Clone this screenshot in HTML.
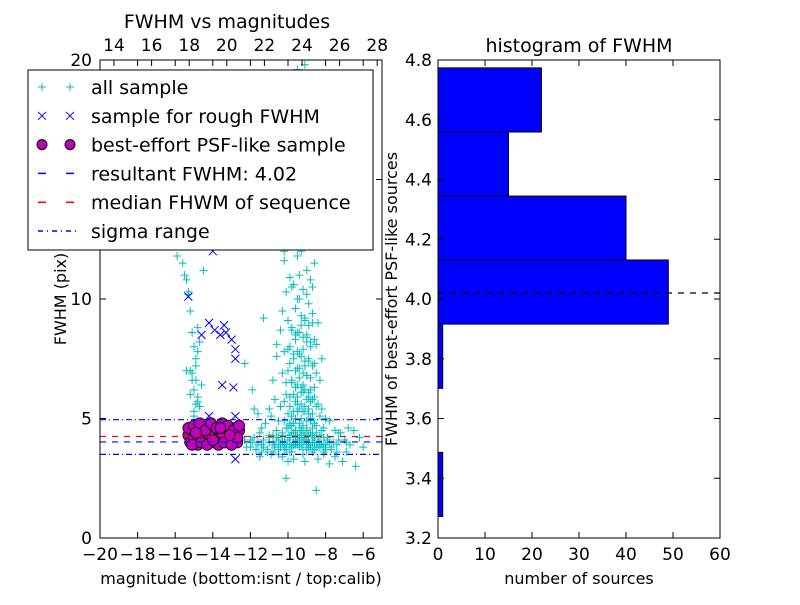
<!DOCTYPE html>
<html><head><meta charset="utf-8"><style>
body{margin:0;background:#fff}
svg{font-family:"DejaVu Sans","Liberation Sans",sans-serif}
</style></head><body>
<svg id="c" width="800" height="600" xmlns="http://www.w3.org/2000/svg"></svg>
<script>
const allMag=[-10.5,-10.2,-9.8,-9.5,-9.3,-9.0,-8.8,-8.6,-9.9,-10.1,-9.7,-9.4,-9.2,-8.9,-10.3,-9.6,-9.1,-8.7,-8.4,-10.0,-9.8,-9.5,-9.3,-9.0,-8.8,-10.4,-9.9,-9.6,-9.2,-8.5,-10.6,-10.2,-9.7,-9.4,-9.1,-8.9,-10.0,-9.5,-9.0,-8.6,-10.8,-10.3,-9.8,-9.4,-9.2,-8.8,-8.3,-10.1,-9.6,-9.3,-8.9,-10.7,-10.2,-9.9,-9.5,-9.1,-8.7,-11.0,-10.4,-9.7,-9.3,-8.9,-8.2,-10.9,-10.0,-9.6,-9.2,-8.8,-8.0,-11.2,-10.5,-9.8,-9.4,-9.0,-8.5,-7.8,-11.4,-10.6,-10.1,-9.7,-9.3,-8.7,-8.1,-11.5,-10.8,-10.3,-9.9,-9.5,-9.1,-8.4,-7.5,-11.8,-11.0,-10.5,-10.0,-9.6,-9.0,-8.6,-7.9,-7.2,-11.9,-11.3,-10.7,-10.2,-9.7,-9.2,-8.8,-8.2,-7.6,-6.8,-12.3,-11.6,-11.0,-10.4,-9.9,-9.4,-8.9,-8.3,-7.7,-7.0,-6.5,-12.5,-12.0,-11.4,-10.8,-10.2,-9.6,-9.0,-8.5,-8.0,-7.4,-6.9,-6.2,-12.2,-11.7,-11.1,-10.5,-9.8,-9.2,-8.7,-8.1,-7.5,-6.9,-6.0,-11.5,-10.9,-10.3,-9.7,-9.1,-8.4,-7.8,-7.1,-6.4,-10.0,-8.2,-7.3,-9.6,-10.4,-9.0,-11.0,-10.7,-9.4,-9.9,-8.6,-10.1,-9.3,-8.9,-9.8,-10.6,-9.5,-8.8,-9.7,-10.3,-9.1,-11.2,-8.5,-9.0,-10.2,-9.4,-15.6,-15.4,-15.3,-15.2,-15.1,-15.0,-14.9,-15.2,-15.1,-15.0,-14.8,-14.9,-15.0,-14.7,-14.8,-14.9,-15.1,-14.6,-14.8,-15.0,-14.7,-15.3,-15.9,-15.5,-15.2,-14.9,-14.7,-15.0,-14.8,-12.3,-11.8,-10.6,-9.2,-8.1,-9.8,-10.5,-9.0,-8.4,-9.5,-10.9,-10.0,-11.3,-8.7,-9.3,-10.2,-14.5,-15.4,-11.6,-11.9,
-9.9,-9.7,-9.5,-9.3,-9.1,-8.9,-8.7,-9.8,-9.6,-9.4,-9.2,-9.0,-8.8,-8.6,-10.0,-9.7,-9.5,-9.3,-9.1,-8.9,-8.7,-9.9,-9.6,-9.4,-9.2,-9.0,-8.8,-8.5,-10.1,-9.8,-9.5,-9.3,-9.1,-8.9,-8.6,-9.7,-9.5,-9.2,-9.0,-8.8,-8.6,-8.4,-9.9,-9.6,-9.4,-9.1,-8.9,-8.7,-8.5,-9.8,-9.5,-9.3,-9.0,-8.8,-8.6,-8.3,-10.2,-9.9,-9.7,-9.4,-9.2,-9.0,-8.7,-8.5,-8.2,-10.3,-10.0,-9.8,-9.5,-9.3,-9.1,-8.8,-8.6,-8.3,-10.5,-10.2,-9.9,-9.6,-9.4,-9.1,-8.9,-8.6,-8.4,-8.1,-10.6,-10.3,-10.0,-9.7,-9.5,-9.2,-8.9,-8.7,-8.4,-8.0,-11.0,-10.7,-10.4,-10.1,-9.8,-9.5,-9.2,-8.9,-8.6,-8.3,-7.9,-11.6,-11.3,-11.0,-10.7,-10.4,-10.1,-9.8,-9.5,-9.2,-8.9,-8.6,-8.3,-8.0,-7.7,-7.4,-12.0,-11.7,-11.4,-11.1,-10.8,-10.5,-10.2,-9.9,-9.6,-9.3,-9.0,-8.7,-8.4,-8.1,-7.8,-7.3,-6.7,-9.7,-9.4,-9.1,-9.6,-9.3,-9.0,-9.5,-9.2,-8.9,-9.8,-9.4,-9.0];
const allFwhm=[12.2,11.6,12.5,11.8,12.0,11.2,10.8,11.5,10.9,10.3,10.6,10.0,10.4,9.8,9.5,9.6,9.2,9.4,9.0,9.1,8.8,8.6,8.9,8.4,8.2,8.7,8.0,8.3,7.9,8.1,7.6,7.8,7.5,7.7,7.2,7.4,7.0,7.1,6.8,7.3,6.6,6.9,6.5,6.7,6.4,6.2,6.6,6.0,6.3,6.1,5.9,5.8,5.7,5.9,5.6,5.5,5.8,5.4,5.5,5.3,5.6,5.2,5.4,5.1,5.2,5.0,5.3,4.9,5.0,4.8,4.9,4.7,4.8,4.6,4.7,4.9,4.6,4.5,4.6,4.4,4.5,4.3,4.6,4.4,4.3,4.4,4.2,4.3,4.2,4.1,4.5,4.2,4.3,4.1,4.2,4.0,4.1,4.0,4.2,4.4,4.0,4.1,3.9,4.0,3.9,4.0,3.8,3.9,4.0,4.6,4.1,4.0,4.2,3.9,3.9,3.8,4.0,3.9,3.8,4.1,4.5,4.2,4.1,3.9,4.0,3.8,3.9,3.7,3.8,3.7,3.9,4.0,4.2,3.8,3.7,3.6,3.7,3.6,3.5,3.6,3.5,3.4,3.6,3.8,3.4,3.5,3.4,3.3,3.2,3.3,3.1,3.2,3.0,3.2,7.5,4.4,4.5,14.5,13.5,13.0,13.8,15.5,16.5,17.0,2.5,17.8,18.2,19.0,18.6,19.6,13.2,15.8,16.2,19.8,14.2,2.0,8.5,15.2,14.8,11.5,10.8,10.2,9.5,8.6,8.0,7.5,7.0,6.6,6.2,5.9,5.6,5.3,8.2,7.8,7.2,6.9,6.4,5.7,5.1,5.5,10.3,11.8,11.0,6.0,6.6,5.5,4.6,8.8,7.3,5.4,8.1,4.6,3.6,12.8,14.0,16.8,18.8,15.0,13.2,17.5,9.2,10.5,17.3,12.0,11.2,7.0,5.2,6.2,4.8,19.2,10.0,
9.3,9.1,8.9,9.0,8.7,8.5,8.6,8.4,8.2,8.0,8.3,7.9,7.7,7.8,7.6,7.4,7.5,7.2,7.3,7.0,7.1,6.9,6.8,6.7,6.9,6.5,6.6,6.4,6.3,6.2,6.1,6.3,6.0,5.9,6.1,5.8,5.7,5.9,5.6,5.5,5.7,5.4,5.3,5.4,5.2,5.5,5.1,5.3,5.0,4.9,5.0,4.8,5.1,4.9,4.7,4.8,4.6,4.7,4.5,4.6,4.4,4.5,4.3,4.6,4.4,4.3,4.5,4.2,4.4,4.1,4.3,4.2,4.0,4.3,4.2,4.1,4.3,4.0,4.2,4.1,3.9,4.2,4.0,4.1,3.9,4.0,4.1,3.9,4.0,3.8,3.9,4.0,3.8,3.9,3.7,3.8,4.0,4.1,3.9,4.0,3.8,4.1,3.9,3.8,4.0,3.9,3.8,3.9,3.8,3.9,3.7,3.8,3.7,3.9,3.8,3.7,3.6,3.8,3.7,3.6,3.7,3.6,3.5,3.7,3.6,4.1,4.2,4.0,4.3,4.1,4.2,4.0,4.1,3.9,4.0,4.2,4.1,4.0,3.9,3.8,4.0,4.4,4.3,10.5,11.0,10.2,11.5,10.8,10.0,12.5,13.0,12.2,13.5,14.0,13.8];
const roughMag=[-14.6,-14.2,-13.9,-13.6,-13.4,-13.3,-13.0,-12.8,-12.8,-13.5,-12.9,-15.3,-14.0,-14.2,-12.8,-12.8,-14.8,-13.2,-12.6];
const roughFwhm=[8.5,9.0,8.7,8.5,8.9,8.6,8.3,7.9,7.5,6.4,6.3,10.1,12.0,5.1,5.1,3.3,4.6,4.4,4.3];
const bestMag=[-15.3,-15.1,-14.9,-14.7,-14.5,-14.3,-14.1,-13.8,-13.6,-13.4,-13.2,-13.0,-12.8,-12.6,-15.2,-15.0,-14.8,-14.6,-14.4,-14.2,-13.9,-13.7,-13.5,-13.3,-13.1,-12.9,-12.7,-15.3,-15.0,-14.7,-14.4,-14.1,-13.8,-13.5,-13.2,-12.9,-12.6,-15.1,-14.6,-14.3,-13.7,-13.4,-13.0,-12.7,-14.9,-14.0,-13.6,-13.1];
const bestFwhm=[4.3,4.5,4.2,4.6,4.4,4.1,4.3,4.5,4.2,4.7,4.4,4.6,4.3,4.5,4.0,4.2,3.9,4.1,4.0,4.3,4.0,4.1,4.4,4.0,4.2,4.1,4.0,4.6,4.7,4.8,4.5,4.8,4.6,4.8,4.7,4.5,4.7,3.9,4.0,3.9,3.9,4.0,3.9,4.2,4.4,4.1,4.6,4.3];
const resultFwhm=4.02, medianFwhm=4.25, sigmaLo=3.5, sigmaHi=4.95;
const binLo=[3.272,3.487,3.701,3.916,4.130,4.345,4.559];
const binCounts=[1,0,1,49,40,15,22];
const binW=0.2146;
const xTicksB=[-20,-18,-16,-14,-12,-10,-8,-6];
const xTicksT=[14,16,18,20,22,24,26,28];
const yTicksL=[0,5,10,20];
const yTicksR=[3.2,3.4,3.6,3.8,4.0,4.2,4.4,4.6,4.8];
const xTicksR=[0,10,20,30,40,50,60];

const S=document.getElementById('c'),NS='http://www.w3.org/2000/svg';
function mk(t,a,p){const e=document.createElementNS(NS,t);for(const k in a)e.setAttribute(k,a[k]);(p||S).appendChild(e);return e;}
const L={x0:100,x1:382,y0:60,y1:538};
const lx=v=>L.x0+(v+20)/15*(L.x1-L.x0);
const ltx=v=>114+(v-14)*18.8;
const ly=v=>L.y1-v/20*(L.y1-L.y0);
const R={x0:438,x1:720,y0:60,y1:538};
const rx=v=>R.x0+v/60*(R.x1-R.x0);
const ry=v=>R.y1-(v-3.2)/1.6*(R.y1-R.y0);
const gL=mk('g',{'clip-path':'url(#cl)'});


const cp=mk('clipPath',{id:'cl'});mk('rect',{x:L.x0,y:L.y0,width:L.x1-L.x0,height:L.y1-L.y0},cp);
for(let i=0;i<allMag.length;i++){const x=lx(allMag[i]),y=ly(allFwhm[i]);
 const p=mk('path',{d:`M${x-4},${y}h8M${x},${y-4}v8`,stroke:'#00bfbf','stroke-width':1},gL);
 
 }
for(let i=0;i<roughMag.length;i++){const x=lx(roughMag[i]),y=ly(roughFwhm[i]);
 const p=mk('path',{d:`M${x-4},${y-4}l8,8M${x-4},${y+4}l8,-8`,stroke:'#0000ff','stroke-width':1},gL);
 
 }
for(let i=0;i<bestMag.length;i++){
 const c=mk('circle',{cx:lx(bestMag[i]),cy:ly(bestFwhm[i]),r:5.5,fill:'#bf00bf',stroke:'#000','stroke-width':0.8},gL);
 
 }
function hl(v,col,dash,n){const l=mk('line',{x1:L.x0,x2:L.x1,y1:ly(v),y2:ly(v),stroke:col,'stroke-width':1.2,'stroke-dasharray':dash},gL);
 }
hl(resultFwhm,'#0000ff','6,6','resultant-fwhm-line');
hl(medianFwhm,'#ff0000','6,6','median-fwhm-line');
hl(sigmaLo,'#0000ff','6,3,1,3','sigma-low-line');
hl(sigmaHi,'#0000ff','6,3,1,3','sigma-high-line');
const lf=mk('rect',{x:L.x0,y:L.y0,width:L.x1-L.x0,height:L.y1-L.y0,fill:'none',stroke:'#000'});

function txt(x,y,s,a,n,extra){const t=mk('text',Object.assign({x:x,y:y,'font-size':17,'text-anchor':a||'middle'},extra||{}));t.textContent=s;
 return t;}
xTicksB.forEach(v=>{const x=lx(v);mk('path',{d:`M${x},${L.y1}v-6M${x},${L.y0}v6`,stroke:'#000'});
 txt(x,L.y1+22,(v<0?'\u2212':'')+Math.abs(v),'middle','x-tick-label-bottom');});
xTicksT.forEach(v=>{const x=ltx(v);mk('path',{d:`M${x},${L.y0}v6`,stroke:'#000'});
 txt(x,L.y0-9,String(v),'middle','x-tick-label-top');});
yTicksL.forEach(v=>{const y=ly(v);mk('path',{d:`M${L.x0},${y}h6M${L.x1},${y}h-6`,stroke:'#000'});
 txt(L.x0-8,y+6,String(v),'end','y-tick-label-left');});
mk('path',{d:`M${L.x0},${ly(15)}h6M${L.x1},${ly(15)}h-6`,stroke:'#000'});
txt(241,584,'magnitude (bottom:isnt / top:calib)','middle','x-axis-title-left',{'font-size':16});
txt(66,299,'FWHM (pix)','middle','y-axis-title-left',{'font-size':16,transform:'rotate(-90 66 299)'});
txt(227,28,'FWHM vs magnitudes','middle','left-chart-title',{'font-size':19});
const lg=mk('g',{});
mk('rect',{x:28,y:70,width:345,height:180,fill:'#fff',stroke:'#000'},lg);
const items=['all sample','sample for rough FWHM','best-effort PSF-like sample','resultant FWHM: 4.02','median FHWM of sequence','sigma range'];
items.forEach((s,i)=>{const y=87+i*28.8;
 const t=mk('text',{x:91,y:y+7,'font-size':19},lg);t.textContent=s;
 
 [42,70].forEach(x=>{
  if(i==0)mk('path',{d:`M${x-4},${y}h8M${x},${y-4}v8`,stroke:'#00bfbf'},lg);
  if(i==1)mk('path',{d:`M${x-4},${y-4}l8,8M${x-4},${y+4}l8,-8`,stroke:'#0000ff'},lg);
  if(i==2)mk('circle',{cx:x,cy:y,r:5,fill:'#bf00bf',stroke:'#000'},lg);});
 if(i==3)mk('line',{x1:38,x2:76,y1:y,y2:y,stroke:'#0000ff','stroke-width':1.5,'stroke-dasharray':'8,20'},lg);
 if(i==4)mk('line',{x1:38,x2:76,y1:y,y2:y,stroke:'#ff0000','stroke-width':1.5,'stroke-dasharray':'8,20'},lg);
 if(i==5)mk('line',{x1:38,x2:76,y1:y,y2:y,stroke:'#0000ff','stroke-width':1.5,'stroke-dasharray':'5,4,1,4'},lg);
});
binLo.forEach((lo,i)=>{if(!binCounts[i])return;const y0=ry(lo+binW),y1=ry(lo);
 const r=mk('rect',{x:rx(0),y:y0,width:rx(binCounts[i])-rx(0),height:y1-y0,fill:'#0000ff',stroke:'#000','stroke-width':1});
 });
const rl=mk('line',{x1:R.x0,x2:R.x1,y1:ry(resultFwhm),y2:ry(resultFwhm),stroke:'#000','stroke-width':1.2,'stroke-dasharray':'6,6'});

const rf=mk('rect',{x:R.x0,y:R.y0,width:R.x1-R.x0,height:R.y1-R.y0,fill:'none',stroke:'#000'});

xTicksR.forEach(v=>{const x=rx(v);mk('path',{d:`M${x},${R.y1}v-6M${x},${R.y0}v6`,stroke:'#000'});
 txt(x,R.y1+22,String(v),'middle','x-tick-label-right');});
yTicksR.forEach(v=>{const y=ry(v);mk('path',{d:`M${R.x0},${y}h6M${R.x1},${y}h-6`,stroke:'#000'});
 txt(R.x0-6,y+6,v.toFixed(1),'end','y-tick-label-right');});
txt(579,584,'number of sources','middle','x-axis-title-right',{'font-size':16});
txt(397,299,'FWHM of best-effort PSF-like sources','middle','y-axis-title-right',{'font-size':16,transform:'rotate(-90 397 299)'});
txt(579,52,'histogram of FWHM','middle','right-chart-title',{'font-size':19});
</script>
</body></html>
